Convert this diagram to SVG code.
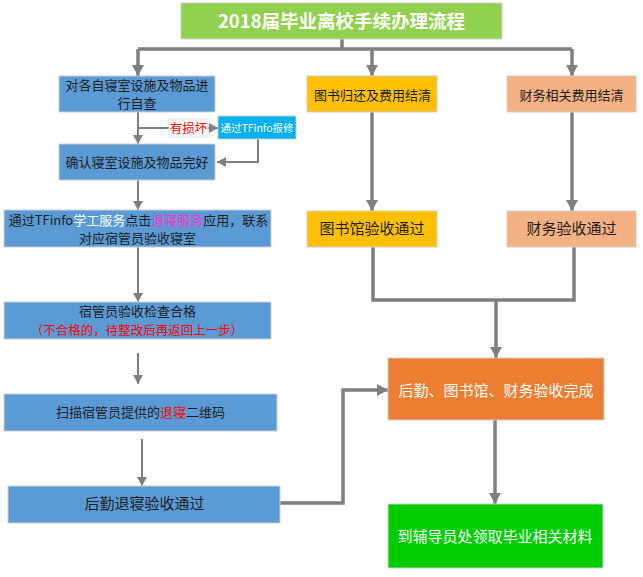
<svg xmlns="http://www.w3.org/2000/svg" width="643" height="577" viewBox="0 0 643 577">
<style>
text{font-family:"Noto Sans CJK SC","Liberation Sans",sans-serif;text-anchor:middle;}
.box{stroke:#cfcfcf;stroke-width:1;}
.blue{fill:#5B9BD5;}
.dark{fill:#1e1e1e;font-size:13px;}
.big{font-size:15px;}
.white{fill:#ffffff;}
.thick{fill:none;stroke:#7f7f7f;stroke-width:3.5;}
.thin{fill:none;stroke:#7f7f7f;stroke-width:2;}
</style>
<defs>
<marker id="ah" markerUnits="userSpaceOnUse" markerWidth="12" markerHeight="12" refX="11" refY="6" orient="auto">
<path d="M0,0 L11,6 L0,12 z" fill="#7f7f7f"/>
</marker>
<marker id="as" markerUnits="userSpaceOnUse" markerWidth="9" markerHeight="10" refX="9" refY="5" orient="auto">
<path d="M0,0 L9,5 L0,10 z" fill="#7f7f7f"/>
</marker>
</defs>
<rect width="643" height="577" fill="#ffffff"/>

<g id="connectors">
<path class="thick" d="M342,39 V49"/>
<path class="thick" d="M138,49 H572"/>
<path class="thick" d="M138,49 V76" marker-end="url(#ah)"/>
<path class="thick" d="M372,49 V76" marker-end="url(#ah)"/>
<path class="thick" d="M572,49 V76" marker-end="url(#ah)"/>
<path class="thin" d="M138,112 V144" marker-end="url(#as)"/>
<path class="thin" d="M138,128 H169"/>
<path class="thin" d="M208,128 H218" marker-end="url(#as)"/>
<path class="thin" d="M258,139 V162 H217" marker-end="url(#as)"/>
<path class="thin" d="M138,180 V210" marker-end="url(#as)"/>
<path class="thin" d="M138,247 V302" marker-end="url(#as)"/>
<path class="thin" d="M138,353 V384" marker-end="url(#as)"/>
<path class="thin" d="M142,439 V486" marker-end="url(#as)"/>
<path class="thick" d="M280,503 H343 V390 H388" marker-end="url(#ah)"/>
<path class="thick" d="M372,112 V211" marker-end="url(#ah)"/>
<path class="thick" d="M572,112 V211" marker-end="url(#ah)"/>
<path class="thick" d="M373,247 V300 H574 V247"/>
<path class="thick" d="M496,300 V358" marker-end="url(#ah)"/>
<path class="thick" d="M495,420 V504" marker-end="url(#ah)"/>
</g>

<g id="title">
<rect class="box" x="181" y="3" width="321" height="36" fill="#92D050"/>
<text x="341.5" y="28" class="white" font-size="18.5" font-weight="bold">2018届毕业离校手续办理流程</text>
</g>

<g id="self-check">
<rect class="box blue" x="59" y="76" width="156" height="36"/>
<text x="137" y="90" class="dark">对各自寝室设施及物品进</text>
<text x="137" y="107.5" class="dark">行自查</text>
</g>

<g id="damaged-label">
<rect x="169" y="119" width="39" height="18" fill="#ffffff" stroke="#e0e0e0" stroke-width="1"/>
<text x="188.5" y="133" fill="#ff0000" font-size="12.5">有损坏</text>
</g>

<g id="repair">
<rect class="box" x="218" y="116" width="78" height="23" fill="#00B0F0"/>
<text x="257" y="131.5" class="white" font-size="10.5">通过TFinfo报修</text>
</g>

<g id="confirm">
<rect class="box blue" x="59" y="144" width="156" height="36"/>
<text x="137" y="167" class="dark">确认寝室设施及物品完好</text>
</g>

<g id="apply">
<rect class="box blue" x="4" y="210" width="267" height="37"/>
<text x="138.5" y="224.5" class="dark">通过TFinfo<tspan fill="#ffffff">学工服务</tspan>点击<tspan fill="#ff33cc">退寝服务</tspan>应用，联系</text>
<text x="137.5" y="242.5" class="dark">对应宿管员验收寝室</text>
</g>

<g id="inspect">
<rect class="box blue" x="4" y="302" width="267" height="37"/>
<text x="137.5" y="316" class="dark">宿管员验收检查合格</text>
<text x="137" y="334.5" fill="#ff0000" font-size="12.5">（不合格的，待整改后再返回上一步）</text>
</g>

<g id="scan">
<rect class="box blue" x="4" y="394" width="273" height="37"/>
<text x="140.5" y="417" class="dark">扫描宿管员提供的<tspan fill="#ff0000">退寝</tspan>二维码</text>
</g>

<g id="logistics-pass">
<rect class="box blue" x="8" y="486" width="272" height="37"/>
<text x="144.5" y="509" class="dark big">后勤退寝验收通过</text>
</g>

<g id="library-return">
<rect class="box" x="307" y="76" width="130" height="36" fill="#FFC000"/>
<text x="372.5" y="99.5" class="dark">图书归还及费用结清</text>
</g>

<g id="library-pass">
<rect class="box" x="307" y="211" width="130" height="36" fill="#FFC000"/>
<text x="372" y="234" class="dark big">图书馆验收通过</text>
</g>

<g id="finance-settle">
<rect class="box" x="507" y="76" width="129" height="36" fill="#F4B183"/>
<text x="571.5" y="99.5" class="dark">财务相关费用结清</text>
</g>

<g id="finance-pass">
<rect class="box" x="507" y="211" width="129" height="36" fill="#F4B183"/>
<text x="571.5" y="234" class="dark big">财务验收通过</text>
</g>

<g id="all-done">
<rect class="box" x="388" y="358" width="216" height="62" fill="#ED7D31"/>
<text x="496" y="396" class="white" font-size="15">后勤、图书馆、财务验收完成</text>
</g>

<g id="collect">
<rect class="box" x="388" y="504" width="215" height="64" fill="#00CC00"/>
<text x="495" y="542" class="white" font-size="15">到辅导员处领取毕业相关材料</text>
</g>
</svg>
